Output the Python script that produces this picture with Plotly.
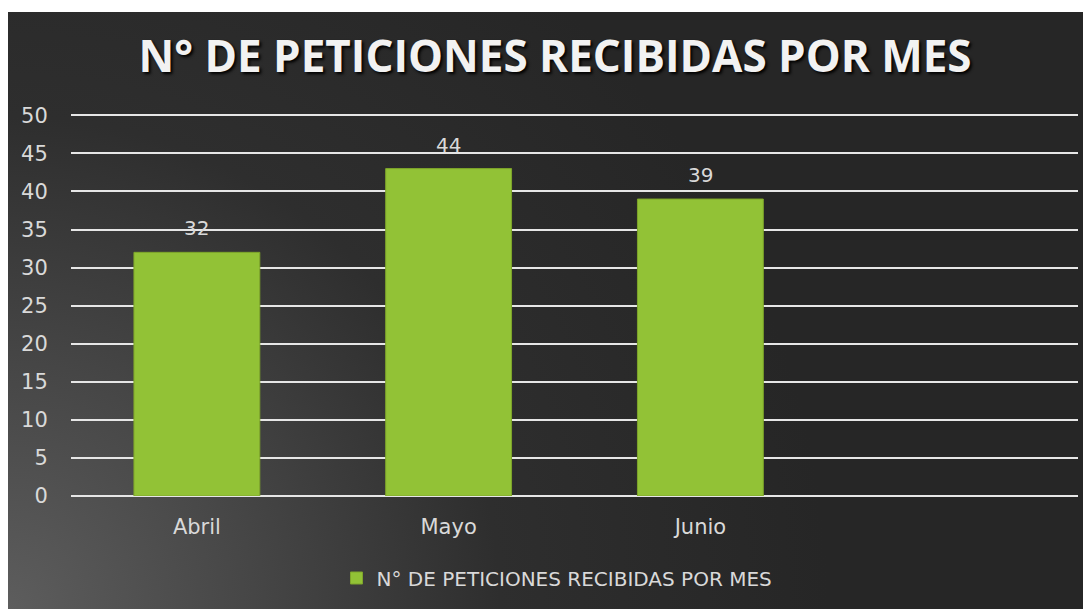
import base64
import plotly.graph_objects as go

# ---- data ----
months = ["Abril", "Mayo", "Junio"]
values = [32, 43, 39]
value_labels = ["32", "44", "39"]
series_name = "N° DE PETICIONES RECIBIDAS POR MES"
title_text = "N° DE PETICIONES RECIBIDAS POR MES"
y_ticks = [0, 5, 10, 15, 20, 25, 30, 35, 40, 45, 50]

# page adds an 8px body margin, so the figure is sized to fill the rest
W, H = 1083, 601
ML, MR, MT, MB = 63, 13, 105, 113
PW = W - ML - MR
PH = H - MT - MB
BG_TOP = 4

svg = f'''<svg xmlns="http://www.w3.org/2000/svg" width="{W}" height="{H - BG_TOP}" viewBox="0 0 {W} {H - BG_TOP}" preserveAspectRatio="none">
<defs><radialGradient id="g" gradientUnits="userSpaceOnUse" cx="0" cy="{H - BG_TOP}" r="820">
<stop offset="0" stop-color="#5d5d5d"/>
<stop offset="0.3" stop-color="#464646"/>
<stop offset="0.6" stop-color="#2e2e2e"/>
<stop offset="1" stop-color="#262626"/>
</radialGradient></defs>
<rect x="0" y="0" width="{W}" height="{H - BG_TOP}" fill="url(#g)"/>
</svg>'''
bg_uri = "data:image/svg+xml;base64," + base64.b64encode(svg.encode()).decode()

txt_font = "'DejaVu Sans', sans-serif"
title_font = "'Open Sans', sans-serif"
light = "#d9d9d9"

fig = go.Figure()
fig.add_trace(go.Bar(
    x=months, y=values, name=series_name,
    marker=dict(color="#92c236", line=dict(color="#7ea52a", width=1)),
    width=0.5, showlegend=True,
))

for m, v, t in zip(months, values, value_labels):
    fig.add_annotation(x=m, y=v, text=t, showarrow=False, yanchor="bottom",
                       yshift=10, font=dict(size=20, color=light, family=txt_font))

fig.update_layout(
    width=W, height=H,
    margin=dict(l=ML, r=MR, t=MT, b=MB, autoexpand=False),
    paper_bgcolor="white",
    plot_bgcolor="rgba(0,0,0,0)",
    images=[dict(source=bg_uri, xref="paper", yref="paper",
                 x=-ML / PW, y=(H - MB - BG_TOP) / PH,
                 sizex=W / PW, sizey=(H - BG_TOP) / PH,
                 xanchor="left", yanchor="top", sizing="stretch", layer="below")],
    title=dict(text=title_text, x=547 / W, xref="container", xanchor="center",
               y=1 - 48.5 / H, yref="container", yanchor="middle",
               font=dict(family=title_font, size=44, color="#f2f2f2", weight="bold",
                         shadow="2px 2px 3px #000")),
    xaxis=dict(range=[-0.5, 3.5], showgrid=False, zeroline=False, showline=False,
               ticks="outside", ticklen=12, tickcolor="rgba(0,0,0,0)",
               tickfont=dict(size=21, color=light, family=txt_font)),
    yaxis=dict(range=[0, 50.3], tickvals=y_ticks, showgrid=True, gridcolor="#e6e6e6",
               gridwidth=2, zeroline=True, zerolinecolor="#e6e6e6", zerolinewidth=2,
               ticks="outside", ticklen=18, tickcolor="rgba(0,0,0,0)",
               tickfont=dict(size=21, color=light, family=txt_font)),
    legend=dict(orientation="h", x=(549 - ML) / PW, xanchor="center",
                y=(H - MB - 570) / PH, yanchor="middle",
                font=dict(size=20, color=light, family=txt_font),
                bgcolor="rgba(0,0,0,0)", itemwidth=30),
    bargap=0.5,
)

fig.write_html("out.html")
